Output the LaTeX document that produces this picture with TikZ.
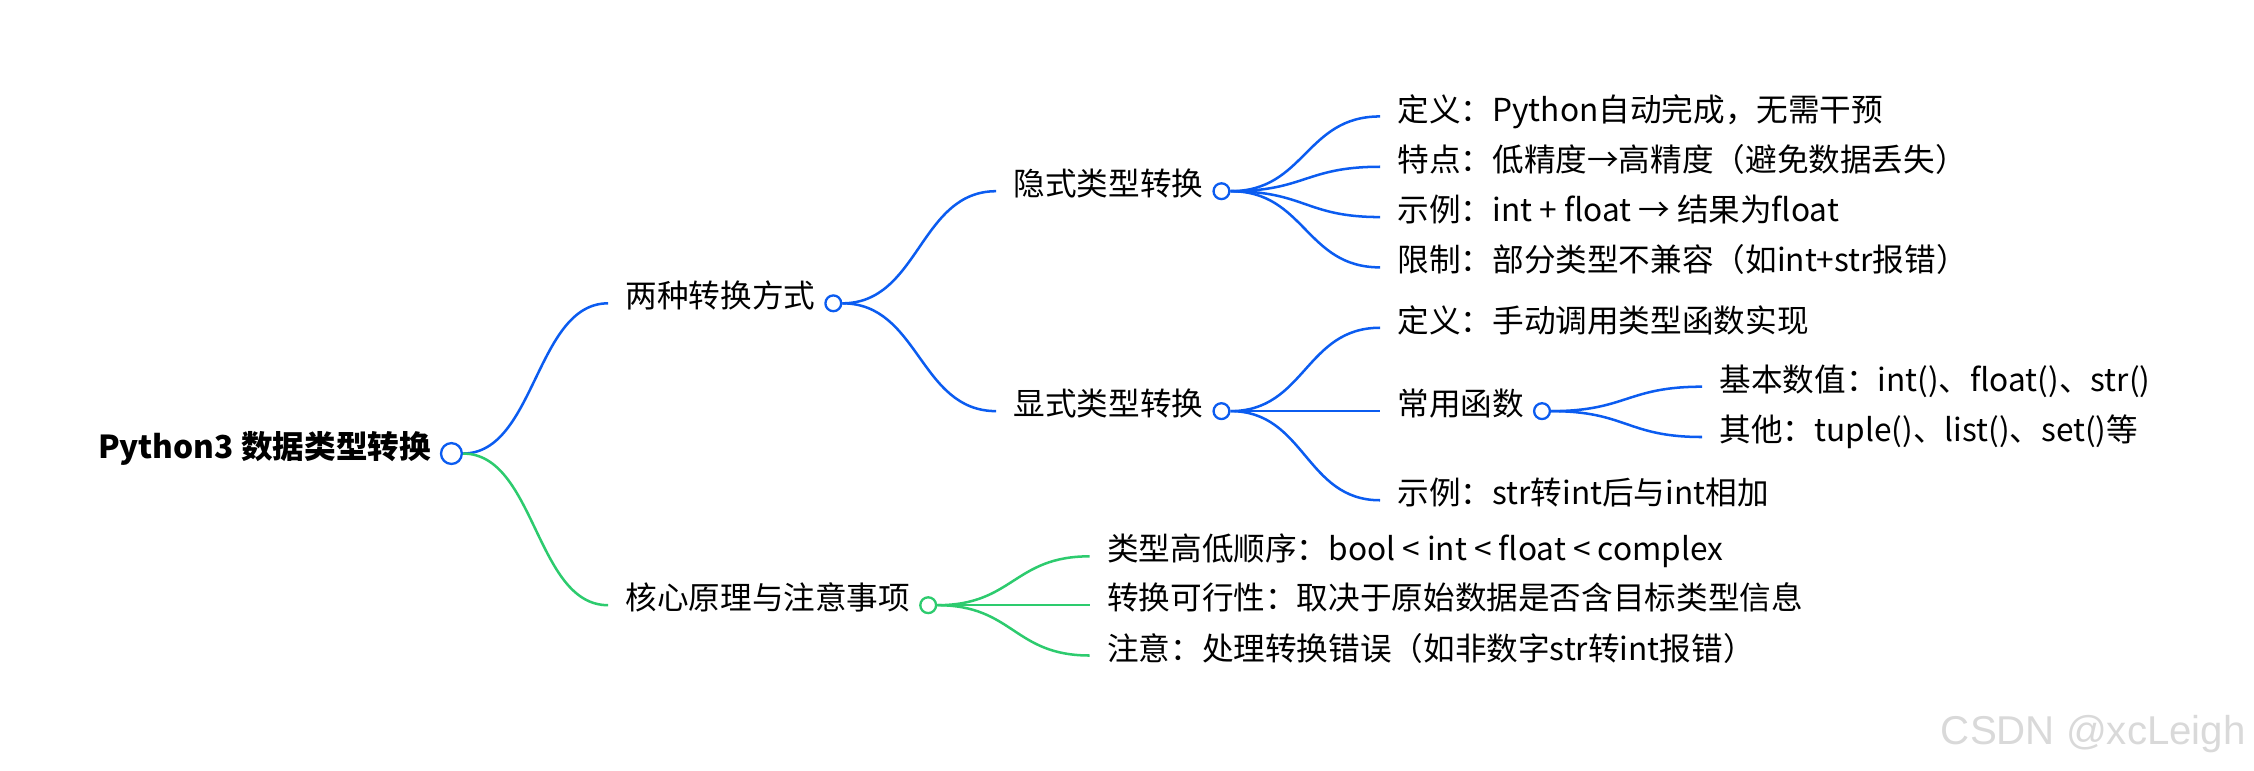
\documentclass[tikz,border=0pt]{standalone}
\usepackage{fontspec}
\setmainfont{Noto Sans CJK SC}
\newfontfamily\wmfont{Liberation Sans}
\usetikzlibrary{calc}
\definecolor{mmblue}{HTML}{0B5CF0}
\definecolor{mmgreen}{HTML}{2DCB6E}
\definecolor{wmgray}{HTML}{D9D9D9}
\tikzset{
  lbl/.style={anchor=west, inner sep=0pt, font=\fontsize{22}{26}\selectfont, text height=0.82em, text depth=0.18em},
  rootlbl/.style={lbl, font=\fontsize{22}{26}\selectfont\bfseries},
  knob/.style={circle, draw=#1, fill=white, line width=1.6pt, inner sep=0pt, minimum size=11pt, anchor=west},
  bigknob/.style={knob=#1, minimum size=14.5pt},
  mmedge/.style={line width=1.75pt, draw=#1},
  wmark/.style={anchor=west, inner sep=0pt, font=\wmfont\fontsize{28}{30}\selectfont, text=wmgray},
}
\newcommand\mmlink[3]{\draw[mmedge=#1] let \p1=(#2.east), \p2=([xshift=-12pt]#3.west), \n1={(\x2-\x1)/2} in (\p1) .. controls +(\n1,0pt) and +(-\n1,0pt) .. (\p2);}
\begin{document}
\begin{tikzpicture}[x=1pt,y=-1pt]
\useasboundingbox (0,0) rectangle (1568,536);
% root
\node[rootlbl] (r) at (68,315.5) {Python3 数据类型转换};
\node[bigknob=mmblue] (rc) at ([xshift=6pt]r.east) {};
% level 1
\node[lbl] (a) at (435,211) {两种转换方式};
\node[knob=mmblue] (ac) at ([xshift=6pt]a.east) {};
\node[lbl] (b) at (435,421) {核心原理与注意事项};
\node[knob=mmgreen] (bc) at ([xshift=6pt]b.east) {};
% level 2 (blue)
\node[lbl] (aa) at (705,133) {隐式类型转换};
\node[knob=mmblue] (aac) at ([xshift=6pt]aa.east) {};
\node[lbl] (ab) at (705,286) {显式类型转换};
\node[knob=mmblue] (abc) at ([xshift=6pt]ab.east) {};
% implicit leaves
\node[lbl] (aa1) at (972,81) {定义：Python自动完成，无需干预};
\node[lbl] (aa2) at (972,116) {特点：低精度→高精度（避免数据丢失）};
\node[lbl] (aa3) at (972,151) {示例：int + float → 结果为float};
\node[lbl] (aa4) at (972,186) {限制：部分类型不兼容（如int+str报错）};
% explicit children
\node[lbl] (ab1) at (972,228) {定义：手动调用类型函数实现};
\node[lbl] (ab2) at (972,286) {常用函数};
\node[knob=mmblue] (ab2c) at ([xshift=6pt]ab2.east) {};
\node[lbl] (ab3) at (972,348) {示例：str转int后与int相加};
\node[lbl] (ab21) at (1196,269) {基本数值：int()、float()、str()};
\node[lbl] (ab22) at (1196,304) {其他：tuple()、list()、set()等};
% green leaves
\node[lbl] (b1) at (770,387) {类型高低顺序：bool < int < float < complex};
\node[lbl] (b2) at (770,421) {转换可行性：取决于原始数据是否含目标类型信息};
\node[lbl] (b3) at (770,456) {注意：处理转换错误（如非数字str转int报错）};
% edges
\mmlink{mmblue}{rc}{a}
\mmlink{mmgreen}{rc}{b}
\mmlink{mmblue}{ac}{aa}
\mmlink{mmblue}{ac}{ab}
\mmlink{mmblue}{aac}{aa1}
\mmlink{mmblue}{aac}{aa2}
\mmlink{mmblue}{aac}{aa3}
\mmlink{mmblue}{aac}{aa4}
\mmlink{mmblue}{abc}{ab1}
\mmlink{mmblue}{abc}{ab2}
\mmlink{mmblue}{abc}{ab3}
\mmlink{mmblue}{ab2c}{ab21}
\mmlink{mmblue}{ab2c}{ab22}
\mmlink{mmgreen}{bc}{b1}
\mmlink{mmgreen}{bc}{b2}
\mmlink{mmgreen}{bc}{b3}
% watermark
\node[wmark] (wm) at (1350,511) {CSDN @xcLeigh};
\end{tikzpicture}
\end{document}
